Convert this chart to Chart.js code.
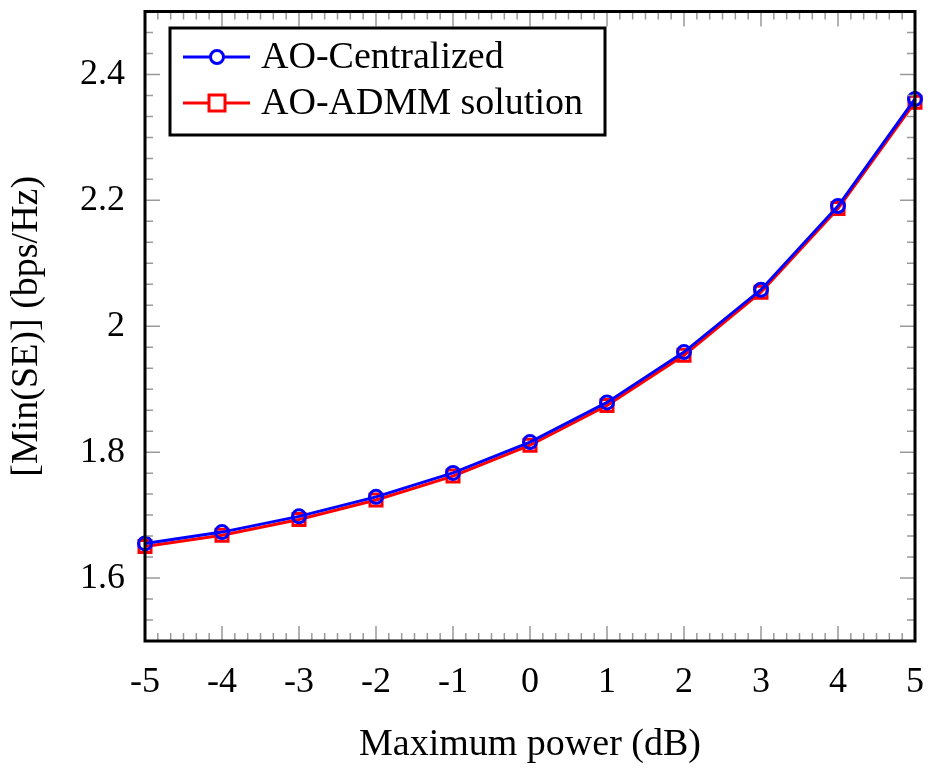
<!DOCTYPE html>
<html>
<head>
<meta charset="utf-8">
<script src="https://cdn.jsdelivr.net/npm/chart.js@4/dist/chart.umd.min.js"></script>
<style>
  html, body { margin: 0; padding: 0; background: #fff; }
  #wrap { width: 928px; height: 772px; }
</style>
</head>
<body>
<div id="wrap"><canvas id="chart" width="928" height="772"></canvas></div>
<script>
// data
const powerDb = [-5, -4, -3, -2, -1, 0, 1, 2, 3, 4, 5];
const centralized = [1.655, 1.673, 1.698, 1.729, 1.767, 1.816, 1.879, 1.959, 2.058, 2.191, 2.361];
const admm = [1.650, 1.668, 1.693, 1.724, 1.762, 1.811, 1.874, 1.954, 2.054, 2.187, 2.356];
const xTicks = [-5, -4, -3, -2, -1, 0, 1, 2, 3, 4, 5];
const yTicks = [1.6, 1.8, 2.0, 2.2, 2.4];

const FONT = '"Liberation Serif", "DejaVu Serif", serif';

// inside ticks (pgfplots style) + frame + legend box
const frameTicks = {
  id: 'frameTicks',
  afterDraw(chart) {
    const ctx = chart.ctx;
    const a = chart.chartArea;
    const xs = chart.scales.x, ys = chart.scales.y;
    ctx.save();
    ctx.strokeStyle = '#999';
    ctx.lineWidth = 1.5;
    ctx.beginPath();
    for (let i = 0; i <= 60; i++) {
      const v = -5 + i / 6;
      const px = xs.getPixelForValue(v);
      const len = i % 6 === 0 ? 15 : 8;
      ctx.moveTo(px, a.bottom); ctx.lineTo(px, a.bottom - len);
      ctx.moveTo(px, a.top); ctx.lineTo(px, a.top + len);
    }
    for (let i = 0; i <= 30; i++) {
      const v = 1.5 + i * 0.2 / 6;
      const py = ys.getPixelForValue(v);
      const len = (i - 3) % 6 === 0 ? 15 : 8;
      ctx.moveTo(a.left, py); ctx.lineTo(a.left + len, py);
      ctx.moveTo(a.right, py); ctx.lineTo(a.right - len, py);
    }
    ctx.stroke();
    ctx.strokeStyle = '#000';
    ctx.lineWidth = 3;
    ctx.strokeRect(a.left, a.top, a.right - a.left, a.bottom - a.top);

    // legend
    const lx = 170, ly = 28, lw = 435, lh = 107;
    ctx.fillStyle = '#fff';
    ctx.fillRect(lx, ly, lw, lh);
    ctx.strokeRect(lx, ly, lw, lh);
    chart.data.datasets.forEach((ds, k) => {
      const y = 57 + k * 46;
      ctx.strokeStyle = ds.borderColor;
      ctx.lineWidth = 3;
      ctx.beginPath(); ctx.moveTo(183, y); ctx.lineTo(250, y); ctx.stroke();
      ctx.fillStyle = '#fff';
      if (ds.pointStyle === 'circle') {
        ctx.beginPath(); ctx.arc(217, y, 6.5, 0, Math.PI * 2); ctx.fill(); ctx.stroke();
      } else {
        ctx.fillRect(209, y - 8, 16, 16); ctx.strokeRect(209, y - 8, 16, 16);
      }
      ctx.fillStyle = '#000';
      ctx.font = '38px ' + FONT;
      ctx.textBaseline = 'middle';
      ctx.textAlign = 'left';
      ctx.fillText(ds.label, 261, y + 1);
    });
    ctx.restore();
  }
};

const noPad = s => { s.paddingTop = 0; s.paddingBottom = 0; s.paddingLeft = 0; s.paddingRight = 0; };

new Chart(document.getElementById('chart'), {
  type: 'line',
  data: {
    datasets: [
      {
        label: 'AO-Centralized',
        data: powerDb.map((x, i) => ({ x: x, y: centralized[i] })),
        borderColor: 'rgb(0,0,255)',
        backgroundColor: 'rgba(0,0,0,0)',
        borderWidth: 3,
        pointStyle: 'circle',
        pointRadius: 6.5,
        pointBorderWidth: 3,
        tension: 0
      },
      {
        label: 'AO-ADMM solution',
        data: powerDb.map((x, i) => ({ x: x, y: admm[i] })),
        borderColor: 'rgb(255,0,0)',
        backgroundColor: 'rgba(0,0,0,0)',
        borderWidth: 3,
        pointStyle: 'rect',
        pointRadius: 8.5,
        pointBorderWidth: 3,
        tension: 0
      }
    ]
  },
  options: {
    responsive: false,
    animation: false,
    clip: false,
    layout: { padding: { top: 7, right: 13, left: 0, bottom: 0 } },
    plugins: { legend: { display: false }, tooltip: { enabled: false } },
    scales: {
      x: {
        type: 'linear',
        min: -5, max: 5,
        afterBuildTicks: s => { s.ticks = xTicks.map(v => ({ value: v })); },
        afterFit: s => { s.height = 131; noPad(s); },
        grid: { display: false },
        border: { display: false },
        ticks: {
          color: '#000', padding: 12, maxRotation: 0,
          font: { family: FONT, size: 36 },
          callback: v => String(v)
        },
        title: {
          display: true, text: 'Maximum power (dB)', color: '#000',
          font: { family: FONT, size: 38 }, padding: { top: 22 }
        }
      },
      y: {
        min: 1.5, max: 2.5,
        afterBuildTicks: s => { s.ticks = yTicks.map(v => ({ value: v })); },
        afterFit: s => { s.width = 145; noPad(s); },
        grid: { display: false },
        border: { display: false },
        ticks: {
          color: '#000', padding: 12,
          font: { family: FONT, size: 36 },
          callback: v => String(Math.round(v * 10) / 10)
        },
        title: {
          display: true, text: '[Min(SE)] (bps/Hz)', color: '#000',
          font: { family: FONT, size: 38 }, padding: { bottom: 8 }
        }
      }
    }
  },
  plugins: [frameTicks]
});
</script>
</body>
</html>
